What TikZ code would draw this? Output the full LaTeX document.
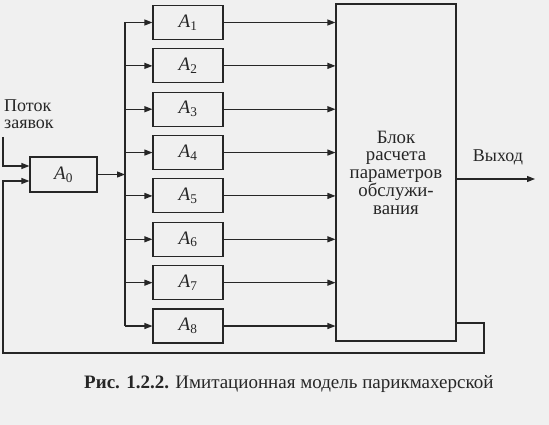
\documentclass[tikz,border=0pt]{standalone}
\usepackage{fontspec}
\setmainfont{Liberation Serif}
\usetikzlibrary{arrows.meta,positioning}

\begin{document}
\begin{tikzpicture}[x=1pt, y=-1pt, every node/.style={text=black!85},
    unit/.style={draw=black!85, line width=1.1pt, minimum width=70pt, minimum height=34pt, inner sep=0pt, font=\fontsize{19}{20}\selectfont},
    calc/.style={draw=black!85, line width=1.1pt, minimum width=120pt, minimum height=337pt, align=center, inner sep=0pt, font=\fontsize{18.8}{17.75}\selectfont},
    wire/.style={draw=black!85, line width=1.1pt},
    arr/.style={wire, -{Triangle[length=8pt,width=6pt]}},
    lbl/.style={font=\fontsize{18}{16.5}\selectfont, inner sep=0pt}
]
% paper
\fill[black!6] (0,0) rectangle (549,425);
\useasboundingbox (0,0) rectangle (549,425);

\node[unit, minimum width=67pt, minimum height=35pt] (A0) at (63.5,174.5) {\textit{A}\textsubscript{0}};
\foreach \i in {1,...,8}
  \node[unit] (A\i) at (188,{22.5+43.36*(\i-1)}) {\textit{A}\textsubscript{\i}};
\node[calc] (blk) at (396,172.5) {Блок\\расчета\\параметров\\обслужи-\\вания};

\node[lbl, align=left, anchor=north west] (src) at (4,100) {Поток\\заявок};
\node[lbl] (outlbl) at (498,157) {Выход};

\coordinate (in) at (3,137);
\coordinate (bt) at (125,22.5);
\coordinate (bb) at (125,326);
\coordinate (out) at (535,179);
\coordinate (fb1) at (484,323);
\coordinate (fb2) at (484,353);
\coordinate (fb3) at (3,353);
\coordinate (fb4) at (3,181);

% distribution bus
\draw[wire] (bt) -- (bb);
\draw[arr] (A0.east) -- (A0.east -| bt);
\foreach \i in {1,...,8} {
  \draw[arr] (A\i.west -| bt) -- (A\i.west);
  \draw[arr] (A\i.east) -- (A\i.east -| blk.west);
}

% input, output, feedback
\draw[arr] (in) |- (A0.west |- 0,166);
\draw[arr] (blk.east |- out) -- (out);
\draw[arr] (blk.east |- fb1) -- (fb1) -- (fb2) -- (fb3) -- (fb4) -- (A0.west |- fb4);

\node[font=\fontsize{19}{21}\selectfont, anchor=west, inner sep=0pt] (cap) at (84,384)
  {\textbf{Рис. 1.2.2.} Имитационная модель парикмахерской};
\end{tikzpicture}
\end{document}
